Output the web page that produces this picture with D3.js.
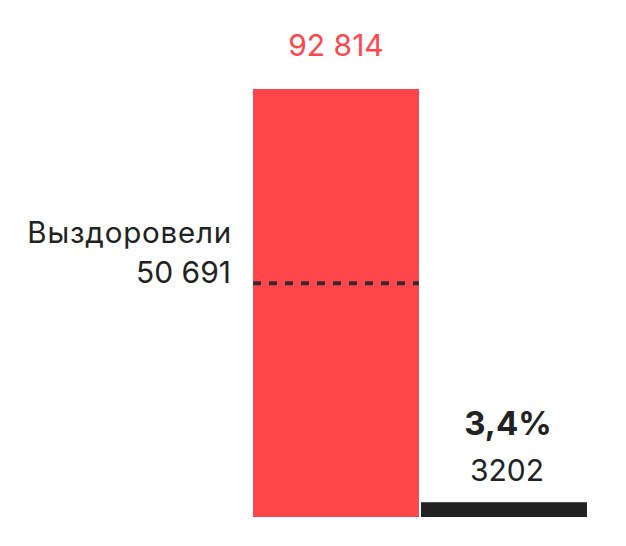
<!DOCTYPE html>
<html><head><meta charset="utf-8">
<script src="https://cdn.jsdelivr.net/npm/d3@7"></script>
<style>
html,body{margin:0;padding:0;background:#fff;}
text{font-family:Inter,Roboto,"Noto Sans",sans-serif;}
</style></head>
<body>
<svg id="chart" width="626" height="546"></svg>
<script>
const categories = ["Заболели", "Умерли"];
const values = [92814, 3202];
const recovered = 50691;
const recoveredLabel = "Выздоровели";
const valueLabels = ["92 814", "3202"];
const recoveredValueLabel = "50 691";
const deathShareLabel = "3,4%";
const colors = ["#FF464B", "#222222"];

const svg = d3.select("#chart");
const x = d3.scaleBand().domain(categories).range([253, 587]).paddingInner(0.012).paddingOuter(0);
const y = d3.scaleLinear().domain([0, values[0]]).range([517, 89]);

svg.selectAll("rect.bar").data(categories).join("rect")
  .attr("class", "bar")
  .attr("x", d => x(d))
  .attr("width", x.bandwidth())
  .attr("y", (d, i) => y(values[i]))
  .attr("height", (d, i) => y(0) - y(values[i]))
  .attr("fill", (d, i) => colors[i]);

// dashed recovered line
svg.append("line")
  .attr("x1", x(categories[0]))
  .attr("x2", x(categories[0]) + x.bandwidth())
  .attr("y1", y(recovered)).attr("y2", y(recovered))
  .attr("stroke", "#3a2b2b").attr("stroke-width", 4)
  .attr("stroke-dasharray", "8 8");

const cx0 = x(categories[0]) + x.bandwidth() / 2;
const cx1 = x(categories[1]) + x.bandwidth() / 2 + 3;

svg.append("text").attr("x", cx0).attr("y", 56)
  .attr("text-anchor", "middle").attr("font-size", 30).attr("fill", colors[0])
  .text(valueLabels[0]);

svg.append("text").attr("x", cx1 + 1).attr("y", 435)
  .attr("text-anchor", "middle").attr("font-size", 33).attr("font-weight", 700).attr("fill", "#222")
  .text(deathShareLabel);
svg.append("text").attr("x", cx1).attr("y", 481)
  .attr("text-anchor", "middle").attr("font-size", 30).attr("fill", "#222")
  .text(valueLabels[1]);

svg.append("text").attr("x", 232).attr("y", y(recovered) - 40)
  .attr("text-anchor", "end").attr("font-size", 29.5).attr("letter-spacing", 0.8).attr("fill", "#222")
  .text(recoveredLabel);
svg.append("text").attr("x", 231).attr("y", y(recovered))
  .attr("text-anchor", "end").attr("font-size", 30).attr("fill", "#222")
  .text(recoveredValueLabel);
</script>
</body></html>
